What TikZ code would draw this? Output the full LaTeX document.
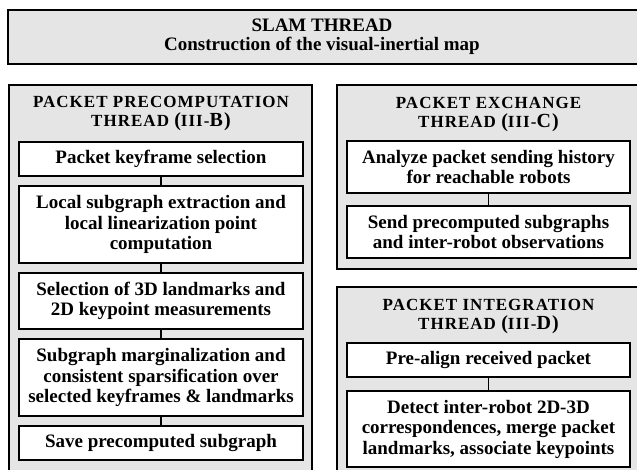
\documentclass[tikz,border=0pt]{standalone}
\usepackage{fontspec}
\setmainfont{Liberation Serif}
\newfontfamily\headfont[LetterSpace=6]{Liberation Serif}
\newcommand{\headbig}[1]{{\fontsize{10}{9.5}\selectfont #1}}

\begin{document}
\begin{tikzpicture}[x=0.5pt,y=-0.5pt,
	thread/.style={draw=black, line width=1pt, fill=black!10},
	task/.style={draw=black, line width=0.6pt, fill=white, align=center, inner sep=0pt,
		font=\bfseries\fontsize{9.5}{10.25}\selectfont},
	head/.style={align=center, font=\headfont\bfseries\fontsize{8.5}{9.5}\selectfont},
	link/.style={line width=0.6pt}]
	\useasboundingbox (0,0) rectangle (637,470);
	\clip (0,0) rectangle (637,470);
	% thread panels
	\draw[thread] (8,10) rectangle (660,64);
	\draw[thread] (9,85) rectangle (312,480);
	\draw[thread] (337,85) rectangle (640,269);
	\draw[thread] (337,287) rectangle (640,480);
	% slam thread
	\node[align=center, font=\bfseries\fontsize{9.5}{9.5}\selectfont] (slam) at (322,37)
		{SLAM THREAD\\Construction of the visual-inertial map};
	% packet precomputation thread
	\node[head] (prehead) at (161,114) {PACKET PRECOMPUTATION\\THREAD \headbig{(}III-\headbig{B)}};
	\node[task, minimum width=142pt, minimum height=17pt] (kf) at (161,159) {Packet keyframe selection};
	\node[task, minimum width=142pt, minimum height=38.5pt] (sub) at (161,224.5)
		{Local subgraph extraction and\\local linearization point\\computation};
	\node[task, minimum width=142pt, minimum height=28pt] (sel) at (161,301)
		{Selection of 3D landmarks and\\2D keypoint measurements};
	\node[task, minimum width=142pt, minimum height=38.5pt] (marg) at (161,377.5)
		{Subgraph marginalization and\\consistent sparsification over\\selected keyframes \& landmarks};
	\node[task, minimum width=142pt, minimum height=17pt] (save) at (161,443) {Save precomputed subgraph};
	\draw[link] (kf) -- (sub);
	\draw[link] (sub) -- (sel);
	\draw[link] (sel) -- (marg);
	\draw[link] (marg) -- (save);
	% packet exchange thread
	\node[head] (exhead) at (488.5,115) {PACKET EXCHANGE\\THREAD \headbig{(}III-\headbig{C)}};
	\node[task, minimum width=141.5pt, minimum height=26pt] (hist) at (488.5,167)
		{Analyze packet sending history\\for reachable robots};
	\node[task, minimum width=141.5pt, minimum height=26pt] (send) at (488.5,232)
		{Send precomputed subgraphs\\and inter-robot observations};
	\draw[link] (hist) -- (send);
	% packet integration thread
	\node[head] (inhead) at (488.5,317) {PACKET INTEGRATION\\THREAD \headbig{(}III-\headbig{D)}};
	\node[task, minimum width=141.5pt, minimum height=17pt] (align) at (488.5,360) {Pre-align received packet};
	\node[task, minimum width=141.5pt, minimum height=38pt] (corr) at (488.5,429)
		{Detect inter-robot 2D-3D\\correspondences, merge packet\\landmarks, associate keypoints};
	\draw[link] (align) -- (corr);
\end{tikzpicture}
\end{document}
